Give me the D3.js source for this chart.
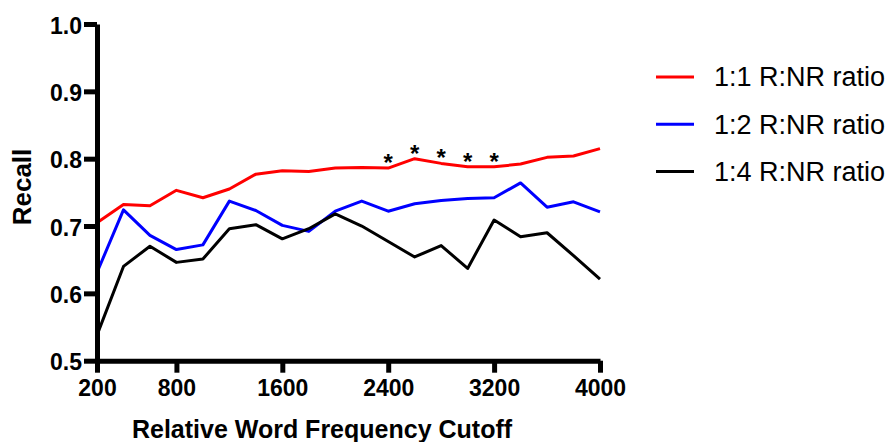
<!DOCTYPE html>
<html>
<head>
<meta charset="utf-8">
<script src="https://cdn.jsdelivr.net/npm/d3@7"></script>
<style>
  body { margin: 0; background: #fff; }
  svg { display: block; font-family: "Liberation Sans", Arial, sans-serif; }
</style>
</head>
<body>
<div id="chart"></div>
<script>
// Cutoffs along the x axis (every 200 words)
const cutoffs = [200, 400, 600, 800, 1000, 1200, 1400, 1600, 1800, 2000,
  2200, 2400, 2600, 2800, 3000, 3200, 3400, 3600, 3800, 4000];

// Recall for each ratio
const ratio11 = [0.705, 0.732, 0.730, 0.753, 0.742, 0.755, 0.777, 0.782, 0.781, 0.786,
  0.787, 0.786, 0.800, 0.793, 0.788, 0.788, 0.792, 0.802, 0.804, 0.815];
const ratio12 = [0.631, 0.724, 0.686, 0.665, 0.672, 0.737, 0.723, 0.701, 0.692, 0.722,
  0.737, 0.722, 0.733, 0.738, 0.741, 0.742, 0.764, 0.728, 0.736, 0.721];
const ratio14 = [0.538, 0.640, 0.670, 0.646, 0.651, 0.696, 0.702, 0.681, 0.696, 0.718,
  0.700, 0.677, 0.654, 0.671, 0.637, 0.709, 0.684, 0.690, 0.656, 0.621];

const seriesNames = ['1:1 R:NR ratio', '1:2 R:NR ratio', '1:4 R:NR ratio'];
const seriesColors = ['#ff0000', '#0000ff', '#000000'];

// Cutoffs marked as significant
const significant = [2400, 2600, 2800, 3000, 3200];

const xTicks = [200, 800, 1600, 2400, 3200, 4000];
const yTicks = [0.5, 0.6, 0.7, 0.8, 0.9, 1.0];

const width = 887;
const height = 442;

const svg = d3.select('#chart')
  .append('svg')
  .attr('width', width)
  .attr('height', height);

const x = d3.scaleLinear().domain([200, 4000]).range([97, 600]);
const y = d3.scaleLinear().domain([0.5, 1.0]).range([360.7, 24]);

const series = [ratio11, ratio12, ratio14];

const line = d3.line()
  .x((d, i) => x(cutoffs[i]))
  .y(d => y(d));

// Data lines (drawn before axes so the axis sits on top)
series.forEach((vals, k) => {
  svg.append('path')
    .datum(vals)
    .attr('d', line)
    .attr('fill', 'none')
    .attr('stroke', seriesColors[k])
    .attr('stroke-width', 3)
    .attr('stroke-linejoin', 'round');
});

// Asterisks over the 1:1 line
svg.selectAll('.star')
  .data(significant)
  .enter()
  .append('text')
  .attr('class', 'star')
  .attr('x', d => x(d))
  .attr('y', d => y(ratio11[cutoffs.indexOf(d)]) + 3)
  .attr('text-anchor', 'middle')
  .attr('font-size', 24)
  .attr('font-weight', 'bold')
  .text('*');

// Axes
const xAxis = svg.append('g')
  .attr('transform', `translate(0,${y(0.5)})`)
  .call(d3.axisBottom(x).tickValues(xTicks).tickFormat(d3.format('d'))
    .tickSize(12).tickSizeOuter(0).tickPadding(7));

const yAxis = svg.append('g')
  .attr('transform', `translate(${x(200)},0)`)
  .call(d3.axisLeft(y).tickValues(yTicks).tickFormat(d3.format('.1f'))
    .tickSize(13).tickSizeOuter(0).tickPadding(2));

[xAxis, yAxis].forEach(g => {
  g.attr('font-size', 23)
    .attr('font-family', '"Liberation Sans", Arial, sans-serif')
    .attr('font-weight', 'bold');
  g.select('.domain').attr('stroke', '#000').attr('stroke-width', 5);
  g.selectAll('.tick line').attr('stroke', '#000').attr('stroke-width', 5);
  g.selectAll('.tick text').attr('fill', '#000');
});
yAxis.selectAll('.tick text').attr('dy', '0.4em');

// Axis titles
svg.append('text')
  .attr('x', 322)
  .attr('y', 438)
  .attr('text-anchor', 'middle')
  .attr('font-size', 25)
  .attr('font-weight', 'bold')
  .text('Relative Word Frequency Cutoff');

svg.append('text')
  .attr('transform', 'translate(31,187) rotate(-90)')
  .attr('text-anchor', 'middle')
  .attr('font-size', 26)
  .attr('font-weight', 'bold')
  .text('Recall');

// Legend
const legend = svg.append('g').attr('transform', 'translate(656,77)');
seriesNames.forEach((name, k) => {
  const row = legend.append('g').attr('transform', `translate(0,${k * 47.2})`);
  row.append('line')
    .attr('x1', 0)
    .attr('x2', 38)
    .attr('stroke', seriesColors[k])
    .attr('stroke-width', 3);
  row.append('text')
    .attr('x', 58)
    .attr('dy', '0.35em')
    .attr('font-size', 27)
    .attr('fill', '#000')
    .text(name);
});
</script>
</body>
</html>
